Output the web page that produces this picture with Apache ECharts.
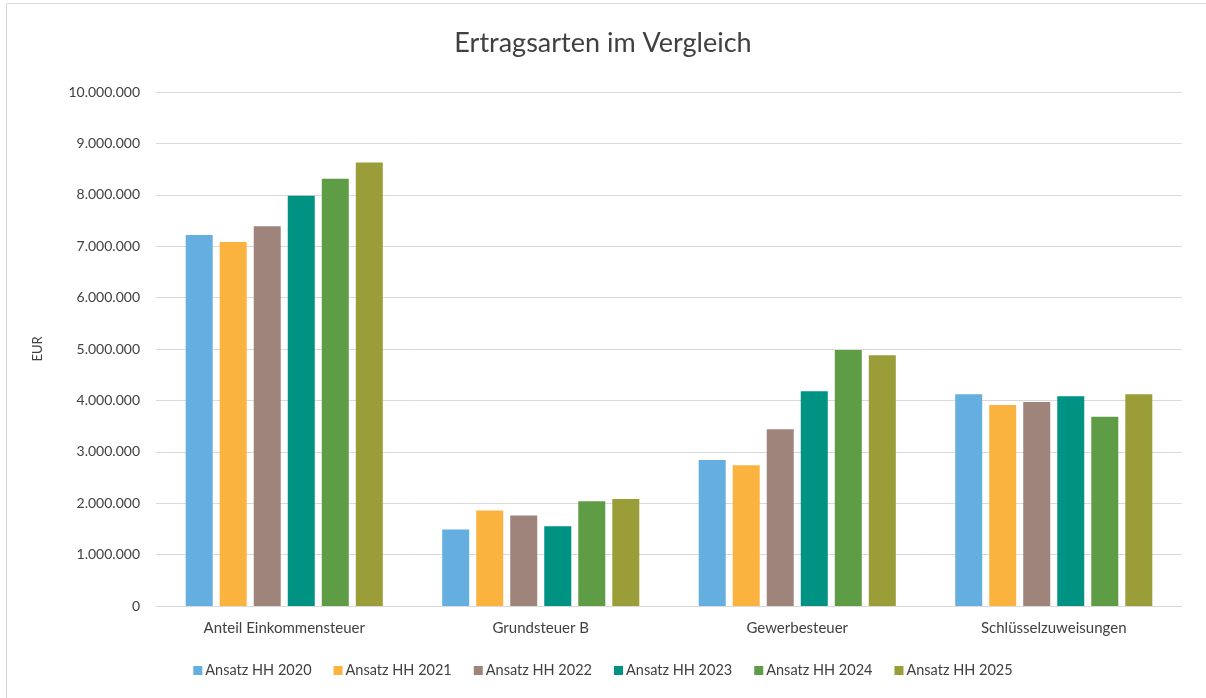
<!DOCTYPE html>
<html>
<head>
<meta charset="utf-8">
<script src="https://cdn.jsdelivr.net/npm/echarts@6/dist/echarts.min.js"></script>
<style>
html, body { margin: 0; padding: 0; background: #fff; }
#frame {
    position: absolute;
    left: 6px;
    top: 3px;
    width: 1210px;
    height: 710px;
    border: 1px solid #d9d9d9;
}
#chart {
    position: absolute;
    left: 0;
    top: 0;
    width: 1206px;
    height: 698px;
}
</style>
</head>
<body>
<div id="frame"></div>
<div id="chart"></div>
<script>
// Kategorien
const categories = ['Anteil Einkommensteuer', 'Grundsteuer B', 'Gewerbesteuer', 'Schlüsselzuweisungen'];
// Ansätze je Haushaltsjahr
const hh2020 = [7220000, 1490000, 2840000, 4120000];
const hh2021 = [7080000, 1860000, 2740000, 3910000];
const hh2022 = [7390000, 1760000, 3440000, 3970000];
const hh2023 = [7980000, 1550000, 4180000, 4080000];
const hh2024 = [8310000, 2040000, 4980000, 3680000];
const hh2025 = [8630000, 2080000, 4880000, 4120000];
const seriesNames = ['Ansatz HH 2020', 'Ansatz HH 2021', 'Ansatz HH 2022', 'Ansatz HH 2023', 'Ansatz HH 2024', 'Ansatz HH 2025'];
const seriesData = [hh2020, hh2021, hh2022, hh2023, hh2024, hh2025];
const colors = ['#65aee0', '#fbb33f', '#9e847a', '#009283', '#5e9c45', '#9a9d38'];

const font = 'Lato, "Open Sans", sans-serif';

const myChart = echarts.init(document.getElementById('chart'));
myChart.setOption({
    animation: false,
    color: colors,
    title: {
        text: 'Ertragsarten im Vergleich',
        left: 'center',
        top: 25,
        textStyle: {
            fontFamily: font,
            fontSize: 27,
            fontWeight: 'normal',
            color: '#404040'
        }
    },
    legend: {
        bottom: 15,
        left: 'center',
        itemWidth: 9,
        itemHeight: 9,
        itemGap: 22,
        icon: 'rect',
        textStyle: {
            fontFamily: font,
            fontSize: 14.5,
            color: '#404040',
            padding: [0, 0, 0, -2]
        },
        data: seriesNames
    },
    grid: {
        left: 156,
        right: 24,
        top: 92,
        bottom: 92
    },
    xAxis: {
        type: 'category',
        data: categories,
        axisLine: { lineStyle: { color: '#d9d9d9', width: 1 } },
        axisTick: { show: false },
        axisLabel: {
            fontFamily: font,
            fontSize: 15,
            color: '#404040',
            margin: 15
        }
    },
    yAxis: {
        type: 'value',
        min: 0,
        max: 10000000,
        interval: 1000000,
        name: 'EUR',
        nameLocation: 'middle',
        nameGap: 112,
        nameRotate: 90,
        nameTextStyle: {
            fontFamily: font,
            fontSize: 13,
            color: '#404040'
        },
        axisLine: { show: false },
        axisTick: { show: false },
        splitLine: { lineStyle: { color: '#d9d9d9', width: 1 } },
        axisLabel: {
            fontFamily: font,
            fontSize: 14,
            color: '#404040',
            margin: 16,
            formatter: function (v) {
                return String(v).replace(/\B(?=(\d{3})+(?!\d))/g, '.');
            }
        }
    },
    series: seriesNames.map(function (name, i) {
        return {
            name: name,
            type: 'bar',
            data: seriesData[i],
            barWidth: 27,
            barGap: '26%',
            itemStyle: { color: colors[i] }
        };
    })
});
</script>
</body>
</html>
